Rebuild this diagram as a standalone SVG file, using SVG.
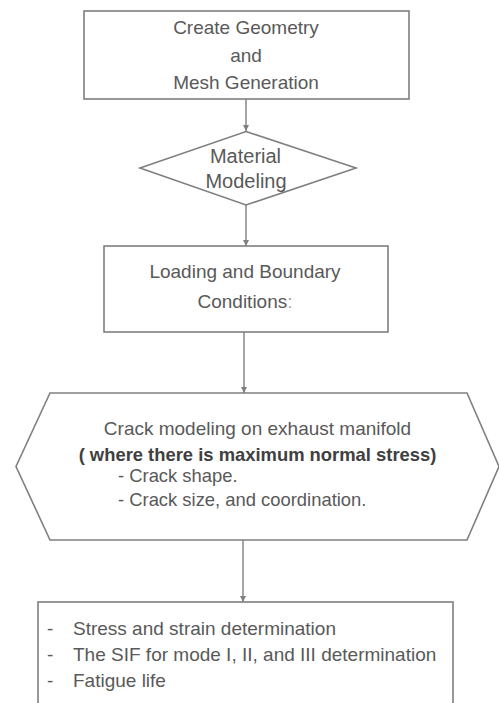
<svg xmlns="http://www.w3.org/2000/svg" width="499" height="703" viewBox="0 0 499 703">
<style>
.shape{fill:#ffffff;stroke:#7f7f7f;stroke-width:1.6}
.t{font-family:"Liberation Sans",Arial,sans-serif;font-size:19px;fill:#595959}
.c{text-anchor:middle}
.b{font-weight:bold;font-size:18.4px;fill:#404040}
.conn{stroke:#7f7f7f;stroke-width:1.4;fill:none}
</style>
<defs>
<marker id="arr" viewBox="0 0 10 10" refX="10" refY="5" markerWidth="6" markerHeight="6" markerUnits="userSpaceOnUse" orient="auto">
<path d="M0,0 L10,5 L0,10 Z" fill="#7f7f7f"/>
</marker>
</defs>
<rect width="499" height="703" fill="#ffffff"/>
<g id="connectors">
<line class="conn" x1="246" y1="99" x2="246" y2="131" marker-end="url(#arr)"/>
<line class="conn" x1="246" y1="205" x2="246" y2="246" marker-end="url(#arr)"/>
<line class="conn" x1="244" y1="332" x2="244" y2="393" marker-end="url(#arr)"/>
<line class="conn" x1="243" y1="540" x2="243" y2="602" marker-end="url(#arr)"/>
</g>
<g id="geometry">
<rect class="shape" x="84" y="11" width="325" height="88"/>
<text class="t c" x="246" y="34">Create Geometry</text>
<text class="t c" x="246" y="61.5">and</text>
<text class="t c" x="246" y="89">Mesh Generation</text>
</g>
<g id="material">
<polygon class="shape" points="246,131.5 356,168 246,205 140,168"/>
<text class="t c" x="245.5" y="162.5" style="font-size:20px">Material</text>
<text class="t c" x="246" y="187.5" style="font-size:20px">Modeling</text>
</g>
<g id="loading">
<rect class="shape" x="104" y="246" width="284" height="86"/>
<text class="t c" x="245" y="277.5">Loading and Boundary</text>
<text class="t c" x="245" y="308">Conditions<tspan fill="#a6a6a6">:</tspan></text>
</g>
<g id="crack">
<polygon class="shape" points="50,393 467,393 499,466.5 467,540 50,540 16,466.5"/>
<text class="t c" x="257.5" y="435">Crack modeling on exhaust manifold</text>
<text class="t c b" x="257.5" y="461">( where there is maximum normal stress)</text>
<text class="t" x="118" y="482" style="font-size:18.4px">- Crack shape.</text>
<text class="t" x="118" y="506" style="font-size:18.4px">- Crack size, and coordination.</text>
</g>
<g id="results">
<rect class="shape" x="38" y="602" width="415" height="120"/>
<text class="t" x="47" y="635">-</text>
<text class="t" x="73" y="635">Stress and strain determination</text>
<text class="t" x="47" y="661">-</text>
<text class="t" x="73" y="661">The SIF for mode I, II, and III determination</text>
<text class="t" x="47" y="687">-</text>
<text class="t" x="73" y="687">Fatigue life</text>
</g>
</svg>
